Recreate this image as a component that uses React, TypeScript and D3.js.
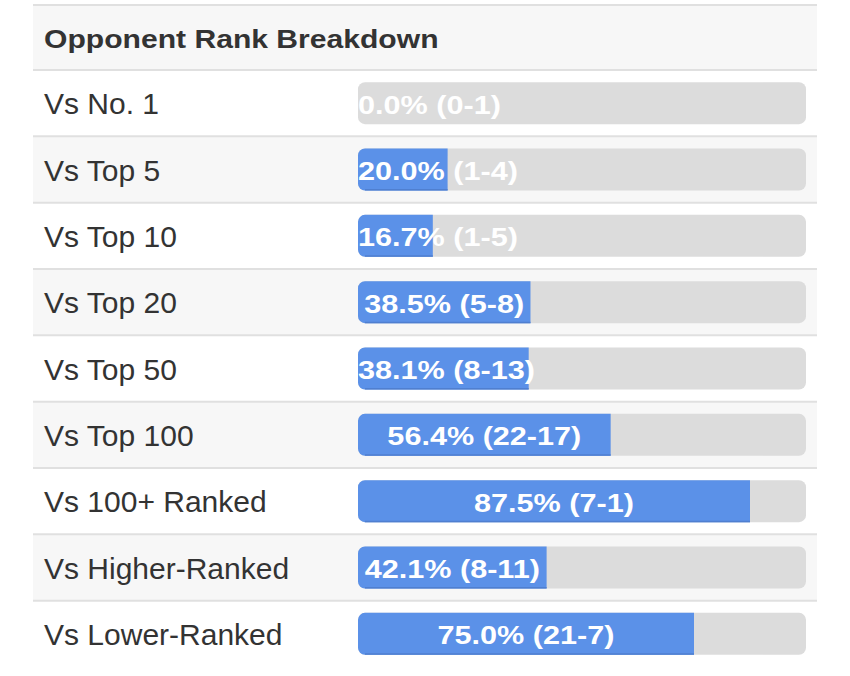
import React from "react";
import * as d3 from "d3";

const categories = ["Vs No. 1", "Vs Top 5", "Vs Top 10", "Vs Top 20", "Vs Top 50", "Vs Top 100", "Vs 100+ Ranked", "Vs Higher-Ranked", "Vs Lower-Ranked"];
const percents = [0.0, 20.0, 16.7, 38.5, 38.1, 56.4, 87.5, 42.1, 75.0];
const wins = [0, 1, 1, 5, 8, 22, 7, 8, 21];
const losses = [1, 4, 5, 8, 13, 17, 1, 11, 7];
const title = "Opponent Rank Breakdown";

const W = 850, H = 676;
const tableLeft = 33, tableRight = 817;
const headerTop = 4, headerBottom = 70, rowsBottom = 667;
const barLeft = 358, barRight = 806, barH = 42;
const FONT = "'Liberation Sans', Arial, Helvetica, sans-serif";
const BOLD_STRETCH = 1.2;

function measure(text: string, font: string): number {
  const c = document.createElement("canvas").getContext("2d")!;
  c.font = font;
  return c.measureText(text).width;
}

export default function App() {
  const y = d3.scaleBand<number>().domain(d3.range(categories.length)).range([headerBottom, rowsBottom]).padding(0);
  const x = d3.scaleLinear().domain([0, 100]).range([barLeft, barRight]);
  const labelSize = 25.5;
  const labelFont = `bold ${labelSize}px ${FONT}`;
  const titleW = measure(title, `bold 25.5px ${FONT}`) * 1.18;
  return (
    <svg width={W} height={H} style={{ display: "block", position: "absolute", left: 0, top: 0 }}>
      <rect x={0} y={0} width={W} height={H} fill="#ffffff" />
      <rect x={tableLeft} y={headerTop} width={tableRight - tableLeft} height={headerBottom - headerTop} fill="#f7f7f7" />
      <line x1={tableLeft} x2={tableRight} y1={headerTop + 1} y2={headerTop + 1} stroke="#e0e0e0" strokeWidth={2} />
      <text x={44} y={48} fontFamily={FONT} fontWeight="bold" fontSize={25.5} fill="#333333" textLength={titleW} lengthAdjust="spacingAndGlyphs">{title}</text>
      {categories.map((c, i) => {
        const top = y(i)!;
        const bh = y.bandwidth();
        const bTop = top + (bh - barH) / 2;
        const xe = x(percents[i]);
        const label = `${percents[i].toFixed(1)}% (${wins[i]}-${losses[i]})`;
        const tw = measure(label, labelFont) * BOLD_STRETCH;
        const fillW = xe - barLeft;
        const cx = fillW >= tw ? (barLeft + xe) / 2 : barLeft + tw / 2;
        const r = 7;
        const path = fillW > 0
          ? `M${barLeft + r},${bTop} H${xe} V${bTop + barH} H${barLeft + r} A${r},${r} 0 0 1 ${barLeft},${bTop + barH - r} V${bTop + r} A${r},${r} 0 0 1 ${barLeft + r},${bTop} Z`
          : "";
        return (
          <g key={c}>
            <rect x={tableLeft} y={top} width={tableRight - tableLeft} height={bh} fill={i % 2 === 1 ? "#f7f7f7" : "#ffffff"} />
            <line x1={tableLeft} x2={tableRight} y1={top} y2={top} stroke="#e0e0e0" strokeWidth={2} />
            <text x={44} y={top + bh / 2 + 11} fontFamily={FONT} fontSize={30} fill="#333333">{c}</text>
            <rect x={barLeft} y={bTop} width={barRight - barLeft} height={barH} rx={r} ry={r} fill="#dcdcdc" />
            {fillW > 0 && <path d={path} fill="#5b91e8" />}
            {fillW > 0 && <line x1={barLeft + r} x2={xe} y1={bTop + barH - 0.75} y2={bTop + barH - 0.75} stroke="#4f7fd0" strokeWidth={1.5} />}
            <text x={cx} y={bTop + barH / 2 + 10.5} textAnchor="middle" fontFamily={FONT} fontWeight="bold" fontSize={labelSize} fill="#ffffff" textLength={tw} lengthAdjust="spacingAndGlyphs">{label}</text>
          </g>
        );
      })}
    </svg>
  );
}
